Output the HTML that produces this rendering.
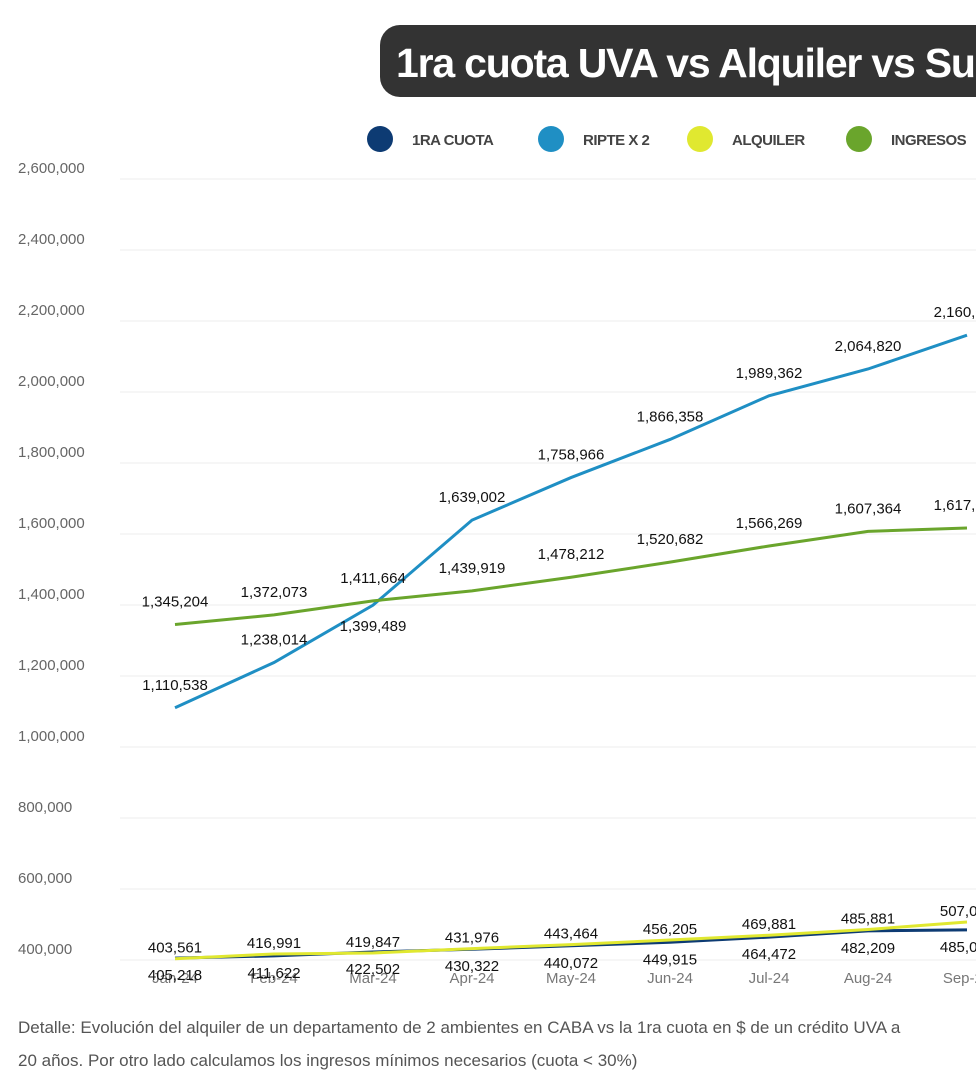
<!DOCTYPE html>
<html><head><meta charset="utf-8"><style>
body{margin:0;background:#fff;width:976px;height:1092px;overflow:hidden;font-family:"Liberation Sans",sans-serif}
</style></head><body>
<svg width="976" height="1092" id="chart" style="position:absolute;left:0;top:0">
<rect x="380" y="25" width="640" height="72" rx="20" fill="#333"/>
<text x="396" y="77" fill="#fff" font-size="41" font-weight="bold" letter-spacing="-1.2">1ra cuota UVA vs Alquiler vs Sueldo</text>
<g id="legend"></g>
<g id="grid"></g><g id="lines"></g><g id="labels"></g>
<text x="18" y="1033" fill="#555" font-size="17">Detalle: Evolución del alquiler de un departamento de 2 ambientes en CABA vs la 1ra cuota en $ de un crédito UVA a</text>
<text x="18" y="1066" fill="#555" font-size="17">20 años. Por otro lado calculamos los ingresos mínimos necesarios (cuota &lt; 30%)</text>
</svg>
<script>
const categories=["Jan-24","Feb-24","Mar-24","Apr-24","May-24","Jun-24","Jul-24","Aug-24","Sep-24"];
const ripte=[1110538,1238014,1399489,1639002,1758966,1866358,1989362,2064820,2160000];
const ingresos=[1345204,1372073,1411664,1439919,1478212,1520682,1566269,1607364,1617000];
const cuota=[405218,411622,422502,430322,440072,449915,464472,482209,485000];
const alquiler=[403561,416991,419847,431976,443464,456205,469881,485881,507000];
const yTicks=[400000,600000,800000,1000000,1200000,1400000,1600000,1800000,2000000,2200000,2400000,2600000];
const NS="http://www.w3.org/2000/svg";
const x=i=>175+i*99;
const y=v=>960-(v-400000)/200000*71;
const fmt=v=>v.toLocaleString("en-US");
function mk(t,a,p){const e=document.createElementNS(NS,t);for(const k in a)e.setAttribute(k,a[k]);document.getElementById(p).appendChild(e);return e;}
yTicks.forEach(v=>{
 const l=mk("line",{x1:120,x2:976,y1:y(v),y2:y(v),stroke:"#eee","stroke-width":1},"grid");
 
 
 const t=mk("text",{x:18,y:y(v)-6,fill:"#666","font-size":15},"grid");t.textContent=fmt(v);
 
 
});
categories.forEach((c,i)=>{
 const t=mk("text",{x:x(i),y:983,fill:"#777","font-size":15,"text-anchor":"middle"},"grid");t.textContent=c;
 
 
});
const series=[[ripte,"#1f8fc4","ripte-line",-18],[ingresos,"#6aa52c","ingresos-line",-18],[cuota,"#0d3b73","cuota-line",22],[alquiler,"#e0e830","alquiler-line",-6]];
series.forEach(([d,c,n,off])=>{
 const p=mk("polyline",{points:d.map((v,i)=>x(i)+","+y(v)).join(" "),fill:"none",stroke:c,"stroke-width":3},"lines");
 
 
 d.forEach((v,i)=>{
  let o=off;if(n==="ripte-line"&&i===2)o=26;
  const t=mk("text",{x:x(i),y:y(v)+o,fill:"#111","font-size":15,"text-anchor":"middle"},"labels");t.textContent=fmt(v);
  
  
 });
});
const leg=[["1RA CUOTA","#0d3b73",380],["RIPTE X 2","#1f8fc4",551],["ALQUILER","#e0e830",700],["INGRESOS","#6aa52c",859]];
leg.forEach(([l,c,lx])=>{
 const ci=mk("circle",{cx:lx,cy:139,r:13,fill:c},"legend");
 
 
 const t=mk("text",{x:lx+32,y:145,fill:"#444","font-size":15,"font-weight":"bold","letter-spacing":"-0.5"},"legend");t.textContent=l;
 
 
});
</script>
</body></html>
